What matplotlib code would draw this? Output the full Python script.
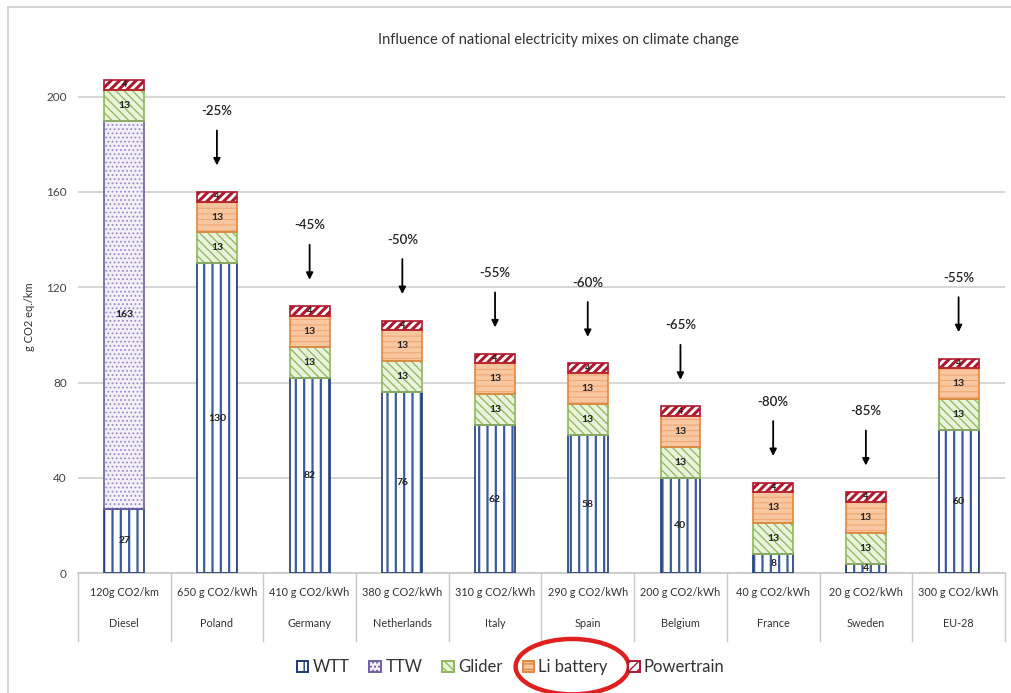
import matplotlib
matplotlib.use("Agg")
import matplotlib.pyplot as plt
import numpy as np
from matplotlib.patches import Patch, Ellipse
from matplotlib.transforms import blended_transform_factory

plt.rcParams["font.family"] = ["Lato", "DejaVu Sans"]

countries = ["Diesel", "Poland", "Germany", "Netherlands", "Italy", "Spain",
             "Belgium", "France", "Sweden", "EU-28"]
mix_labels = ["120g CO2/km", "650 g CO2/kWh", "410 g CO2/kWh", "380 g CO2/kWh",
              "310 g CO2/kWh", "290 g CO2/kWh", "200 g CO2/kWh", "40 g CO2/kWh",
              "20 g CO2/kWh", "300 g CO2/kWh"]
wtt = [27, 130, 82, 76, 62, 58, 40, 8, 4, 60]
ttw = [163, 0, 0, 0, 0, 0, 0, 0, 0, 0]
glider = [13, 13, 13, 13, 13, 13, 13, 13, 13, 13]
battery = [0, 13, 13, 13, 13, 13, 13, 13, 13, 13]
powertrain = [4, 4, 4, 4, 4, 4, 4, 4, 4, 4]
reduction = [None, "-25%", "-45%", "-50%", "-55%", "-60%", "-65%", "-80%", "-85%", "-55%"]

# fill, hatch colour, outline, hatch pattern, hatch width
styles = {
    "WTT": ("white", "#3A5C9E", "#1F3A78", "||", 1.6),
    "TTW": ("#F3F0FA", "#9A8CC8", "#6F5FA8", "....", 0.8),
    "Glider": ("#EAF3DC", "#8DB85A", "#8DB85A", "\\\\\\\\", 0.9),
    "Li battery": ("#F8C7A0", "#F2A877", "#E7863F", "---", 0.8),
    "Powertrain": ("white", "#B0182E", "#B0182E", "////", 2.2),
}

fig = plt.figure(figsize=(10.11, 6.93), dpi=100)
ax = fig.add_axes([0.077, 0.173, 0.917, 0.739])

x = np.arange(len(countries))
width = 0.43
series = [("WTT", wtt), ("TTW", ttw), ("Glider", glider),
          ("Li battery", battery), ("Powertrain", powertrain)]

bottom = np.zeros(len(countries))
for name, vals in series:
    vals = np.array(vals, dtype=float)
    fc, hc, ec, hatch, hlw = styles[name]
    with plt.rc_context({"hatch.linewidth": hlw}):
        ax.bar(x, vals, width, bottom=bottom, color=fc, edgecolor=hc,
               hatch=hatch, linewidth=0, zorder=2)
    ax.bar(x, vals, width, bottom=bottom, color="none", edgecolor=ec,
           linewidth=1.2, zorder=3)
    for i, v in enumerate(vals):
        if v <= 0:
            continue
        size = 6.5 if name == "Powertrain" else 7.5
        ax.text(x[i], bottom[i] + v / 2, f"{int(v)}", ha="center", va="center",
                fontsize=size, fontweight="bold", color="#222222", zorder=4)
    bottom += vals

totals = bottom
for i, lab in enumerate(reduction):
    if lab is None:
        continue
    top = totals[i]
    ax.annotate("", xy=(x[i], top + 10), xytext=(x[i], top + 27),
                arrowprops=dict(arrowstyle="-|>", color="black", lw=1.3,
                                mutation_scale=10), zorder=4)
    ax.text(x[i], top + 34, lab, ha="center", va="center", fontsize=9.5,
            fontweight="semibold", color="#222222")

ax.set_xlim(-0.5, len(countries) - 0.5)
ax.set_ylim(0, 215)
ax.set_yticks([0, 40, 80, 120, 160, 200])
ax.tick_params(axis="y", length=0, labelsize=8.5, labelcolor="#444444", pad=8)
ax.set_xticks([])
ax.yaxis.grid(True, color="#D0D0D0", lw=1.2, zorder=0)
ax.set_axisbelow(True)
for s in ax.spines.values():
    s.set_visible(False)
ax.set_ylabel("g CO2 eq./km", fontsize=8, color="#333333", labelpad=8)

# two-row category axis with separators
trans = blended_transform_factory(ax.transData, ax.transAxes)
ax.plot([-0.5, len(countries) - 0.5], [0, 0], transform=trans, color="#C8C8C8",
        lw=1.2, clip_on=False)
for b in np.arange(-0.5, len(countries), 1.0):
    ax.plot([b, b], [0, -0.133], transform=trans, color="#C8C8C8", lw=1.0,
            clip_on=False)
for i in range(len(countries)):
    ax.text(x[i], -0.037, mix_labels[i], transform=trans, ha="center",
            va="center", fontsize=7.8, color="#333333")
    ax.text(x[i], -0.098, countries[i], transform=trans, ha="center",
            va="center", fontsize=7.8, color="#333333")

fig.text(0.552, 0.942, "Influence of national electricity mixes on climate change",
         ha="center", va="center", fontsize=10.5, color="#333333")

# chart frame
fig.add_artist(plt.Line2D([0.008, 0.008], [0.0, 0.99], color="#CCCCCC", lw=1.2))
fig.add_artist(plt.Line2D([0.008, 1.0], [0.99, 0.99], color="#CCCCCC", lw=1.2))

handles = []
for name, _ in series:
    fc, hc, ec, hatch, hlw = styles[name]
    handles.append(Patch(facecolor=fc, edgecolor=ec, hatch=hatch, lw=1.4, label=name))
fig.legend(handles=handles, loc="center", bbox_to_anchor=(0.505, 0.037), ncol=5,
           frameon=False, fontsize=12, labelcolor="#333333", handlelength=0.7,
           handleheight=0.7, columnspacing=1.2, handletextpad=0.25)

fig.add_artist(Ellipse((0.566, 0.038), 0.112, 0.08, transform=fig.transFigure,
                       fill=False, edgecolor="#E0201E", lw=3.2))

fig.savefig("out.png", dpi=100)
